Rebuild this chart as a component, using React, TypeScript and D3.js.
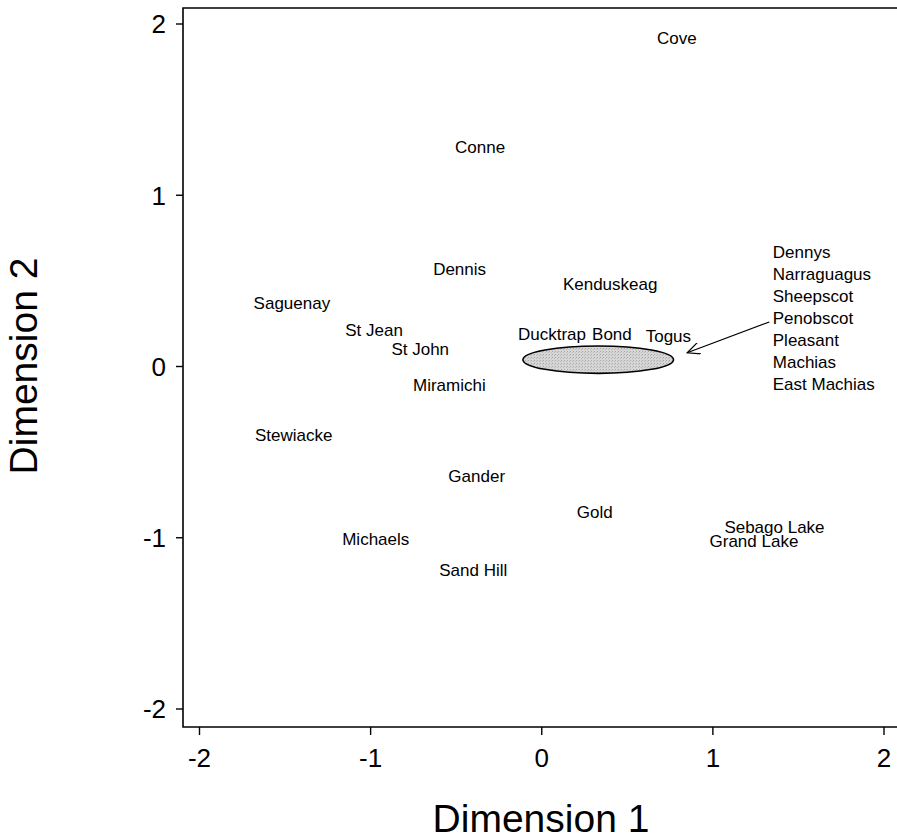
import * as React from "react";
import * as d3 from "d3";

// river names and their coordinates on the two dimensions
const rivers = ["Cove", "Conne", "Dennis", "Kenduskeag", "Saguenay", "St Jean", "St John",
  "Ducktrap", "Bond", "Togus", "Miramichi", "Stewiacke", "Gander", "Gold",
  "Sebago Lake", "Grand Lake", "Michaels", "Sand Hill"];
const dim1 = [0.79, -0.36, -0.48, 0.4, -1.46, -0.98, -0.71,
  0.06, 0.41, 0.74, -0.54, -1.45, -0.38, 0.31,
  1.36, 1.24, -0.97, -0.4];
const dim2 = [1.92, 1.28, 0.57, 0.48, 0.37, 0.21, 0.1,
  0.19, 0.19, 0.18, -0.11, -0.4, -0.64, -0.85,
  -0.94, -1.02, -1.01, -1.19];

// cluster of rivers drawn as the shaded ellipse
const clusterRivers = ["Dennys", "Narraguagus", "Sheepscot", "Penobscot", "Pleasant", "Machias", "East Machias"];
const clusterCenter = [0.33, 0.04];
const clusterRadius = [0.44, 0.08];
const clusterListAt = [1.35, 0.67];
const arrowFrom = [1.33, 0.26];
const arrowTo = [0.85, 0.08];

const tickValues = [-2, -1, 0, 1, 2];

const App = () => {
  const width = 897;
  const height = 840;
  const left = 183;
  const top = 8;
  const bottom = 727;
  const font = "'Liberation Sans', Arial, sans-serif";

  const x = d3.scaleLinear().domain([-2, 2]).range([199.5, 884]);
  const y = d3.scaleLinear().domain([-2, 2]).range([709, 24]);

  const rx = x(clusterRadius[0]) - x(0);
  const ry = y(0) - y(clusterRadius[1]);

  return (
    <svg width={width} height={height} style={{ position: "absolute", left: 0, top: 0, background: "#fff" }}>
      <defs>
        <pattern id="stipple" width="3" height="3" patternUnits="userSpaceOnUse">
          <rect width="3" height="3" fill="#d6d6d6" />
          <rect width="1" height="1" fill="#a8a8a8" />
          <rect x="2" y="1" width="1" height="1" fill="#bbbbbb" />
        </pattern>
        <marker id="head" viewBox="0 0 14 12" refX="13" refY="6" markerWidth="14" markerHeight="12"
          markerUnits="userSpaceOnUse" orient="auto">
          <path d="M0,0 L13,6 L0,12" fill="none" stroke="#000" strokeWidth="1.2" />
        </marker>
      </defs>

      {/* frame */}
      <path d={`M${width},${top} H${left} V${bottom} H${width}`} fill="none" stroke="#000" strokeWidth={1.6} />

      {/* y axis */}
      {tickValues.map(t => (
        <g key={"y" + t}>
          <line x1={left - 7} x2={left} y1={y(t)} y2={y(t)} stroke="#000" strokeWidth={1.4} />
          <text x={left - 17} y={y(t)} dy="0.36em" textAnchor="end" fontFamily={font} fontSize={26}>{t}</text>
        </g>
      ))}

      {/* x axis */}
      {tickValues.map(t => (
        <g key={"x" + t}>
          <line x1={x(t)} x2={x(t)} y1={bottom} y2={bottom + 8} stroke="#000" strokeWidth={1.4} />
          <text x={x(t)} y={767} textAnchor="middle" fontFamily={font} fontSize={26}>{t}</text>
        </g>
      ))}

      <text x={541} y={832} textAnchor="middle" fontFamily={font} fontSize={39}>Dimension 1</text>
      <text transform={`translate(37,366) rotate(-90)`} textAnchor="middle" fontFamily={font} fontSize={39}>Dimension 2</text>

      {/* cluster ellipse and arrow */}
      <ellipse cx={x(clusterCenter[0])} cy={y(clusterCenter[1])} rx={rx} ry={ry}
        fill="url(#stipple)" stroke="#000" strokeWidth={1.6} />
      <line x1={x(arrowFrom[0])} y1={y(arrowFrom[1])} x2={x(arrowTo[0])} y2={y(arrowTo[1])}
        stroke="#000" strokeWidth={1.2} markerEnd="url(#head)" />

      {clusterRivers.map((name, i) => (
        <text key={name} x={x(clusterListAt[0])} y={y(clusterListAt[1]) + i * 22} dy="0.35em"
          fontFamily={font} fontSize={17}>{name}</text>
      ))}

      {/* river labels */}
      {rivers.map((name, i) => (
        <text key={name} x={x(dim1[i])} y={y(dim2[i])} dy="0.35em" textAnchor="middle"
          fontFamily={font} fontSize={17}>{name}</text>
      ))}
    </svg>
  );
};

export default App;
